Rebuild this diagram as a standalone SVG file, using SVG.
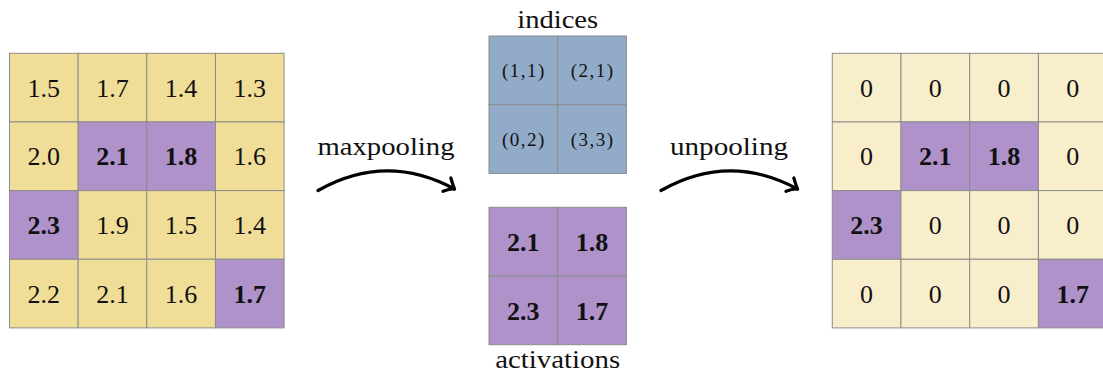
<svg xmlns="http://www.w3.org/2000/svg" width="1103" height="376" viewBox="0 0 1103 376">
<style>
.y{fill:#f0dd97;stroke:#8c8c8c;stroke-width:1}
.ly{fill:#f9eecc;stroke:#8c8c8c;stroke-width:1}
.p{fill:#b092cb;stroke:#8c8c8c;stroke-width:1}
.b{fill:#91abc9;stroke:#8c8c8c;stroke-width:1}
text{font-family:"Liberation Serif","DejaVu Serif",serif;fill:#111;text-anchor:middle}
.n{font-size:26px}
.bd{font-size:26px;font-weight:bold}
.ix{font-size:19px;letter-spacing:1.5px}
.lb{font-size:26px}
.arr{fill:none;stroke:#000;stroke-width:3.2;stroke-linecap:round}
</style>
<defs>
<marker id="ah" markerUnits="userSpaceOnUse" markerWidth="30" markerHeight="30" refX="0" refY="0" viewBox="-15 -15 30 30" orient="auto" overflow="visible">
<path d="M-8.5,-8 Q-3,-2.5 0,0 Q-4,1.5 -9,7.5" fill="none" stroke="#000" stroke-width="3.2" stroke-linecap="round" stroke-linejoin="round"/>
</marker>
</defs>

<g id="input">
<rect class="y" x="9.5" y="53.3" width="68.65" height="68.65"/>
<rect class="y" x="78.15" y="53.3" width="68.65" height="68.65"/>
<rect class="y" x="146.8" y="53.3" width="68.65" height="68.65"/>
<rect class="y" x="215.45" y="53.3" width="68.65" height="68.65"/>
<rect class="y" x="9.5" y="121.95" width="68.65" height="68.65"/>
<rect class="p" x="78.15" y="121.95" width="68.65" height="68.65"/>
<rect class="p" x="146.8" y="121.95" width="68.65" height="68.65"/>
<rect class="y" x="215.45" y="121.95" width="68.65" height="68.65"/>
<rect class="p" x="9.5" y="190.6" width="68.65" height="68.65"/>
<rect class="y" x="78.15" y="190.6" width="68.65" height="68.65"/>
<rect class="y" x="146.8" y="190.6" width="68.65" height="68.65"/>
<rect class="y" x="215.45" y="190.6" width="68.65" height="68.65"/>
<rect class="y" x="9.5" y="259.25" width="68.65" height="68.65"/>
<rect class="y" x="78.15" y="259.25" width="68.65" height="68.65"/>
<rect class="y" x="146.8" y="259.25" width="68.65" height="68.65"/>
<rect class="p" x="215.45" y="259.25" width="68.65" height="68.65"/>
<text class="n" x="43.8" y="96.5">1.5</text>
<text class="n" x="112.5" y="96.5">1.7</text>
<text class="n" x="181.1" y="96.5">1.4</text>
<text class="n" x="249.8" y="96.5">1.3</text>
<text class="n" x="43.8" y="165.2">2.0</text>
<text class="bd" x="112.5" y="165.2">2.1</text>
<text class="bd" x="181.1" y="165.2">1.8</text>
<text class="n" x="249.8" y="165.2">1.6</text>
<text class="bd" x="43.8" y="233.8">2.3</text>
<text class="n" x="112.5" y="233.8">1.9</text>
<text class="n" x="181.1" y="233.8">1.5</text>
<text class="n" x="249.8" y="233.8">1.4</text>
<text class="n" x="43.8" y="302.5">2.2</text>
<text class="n" x="112.5" y="302.5">2.1</text>
<text class="n" x="181.1" y="302.5">1.6</text>
<text class="bd" x="249.8" y="302.5">1.7</text>
</g>

<g id="indices">
<rect class="b" x="489" y="36" width="68.7" height="68.7"/>
<rect class="b" x="557.7" y="36" width="68.7" height="68.7"/>
<rect class="b" x="489" y="104.7" width="68.7" height="68.7"/>
<rect class="b" x="557.7" y="104.7" width="68.7" height="68.7"/>
<text class="ix" x="524" y="77.3">(1,1)</text>
<text class="ix" x="592.7" y="77.3">(2,1)</text>
<text class="ix" x="524" y="146">(0,2)</text>
<text class="ix" x="592.7" y="146">(3,3)</text>
<text class="lb" x="557.7" y="28" textLength="81" lengthAdjust="spacingAndGlyphs">indices</text>
</g>

<g id="activations">
<rect class="p" x="489" y="207.3" width="68.7" height="68.7"/>
<rect class="p" x="557.7" y="207.3" width="68.7" height="68.7"/>
<rect class="p" x="489" y="276" width="68.7" height="68.7"/>
<rect class="p" x="557.7" y="276" width="68.7" height="68.7"/>
<text class="bd" x="523.3" y="251">2.1</text>
<text class="bd" x="592" y="251">1.8</text>
<text class="bd" x="523.3" y="319.7">2.3</text>
<text class="bd" x="592" y="319.7">1.7</text>
<text class="lb" x="557.7" y="368" textLength="125" lengthAdjust="spacingAndGlyphs">activations</text>
</g>

<g id="output">
<rect class="ly" x="832.3" y="53.3" width="68.7" height="68.65"/>
<rect class="ly" x="901" y="53.3" width="68.7" height="68.65"/>
<rect class="ly" x="969.7" y="53.3" width="68.7" height="68.65"/>
<rect class="ly" x="1038.4" y="53.3" width="68.7" height="68.65"/>
<rect class="ly" x="832.3" y="121.95" width="68.7" height="68.65"/>
<rect class="p" x="901" y="121.95" width="68.7" height="68.65"/>
<rect class="p" x="969.7" y="121.95" width="68.7" height="68.65"/>
<rect class="ly" x="1038.4" y="121.95" width="68.7" height="68.65"/>
<rect class="p" x="832.3" y="190.6" width="68.7" height="68.65"/>
<rect class="ly" x="901" y="190.6" width="68.7" height="68.65"/>
<rect class="ly" x="969.7" y="190.6" width="68.7" height="68.65"/>
<rect class="ly" x="1038.4" y="190.6" width="68.7" height="68.65"/>
<rect class="ly" x="832.3" y="259.25" width="68.7" height="68.65"/>
<rect class="ly" x="901" y="259.25" width="68.7" height="68.65"/>
<rect class="ly" x="969.7" y="259.25" width="68.7" height="68.65"/>
<rect class="p" x="1038.4" y="259.25" width="68.7" height="68.65"/>
<text class="n" x="866.6" y="96.5">0</text>
<text class="n" x="935.3" y="96.5">0</text>
<text class="n" x="1004" y="96.5">0</text>
<text class="n" x="1072.7" y="96.5">0</text>
<text class="n" x="866.6" y="165.2">0</text>
<text class="bd" x="935.3" y="165.2">2.1</text>
<text class="bd" x="1004" y="165.2">1.8</text>
<text class="n" x="1072.7" y="165.2">0</text>
<text class="bd" x="866.6" y="233.8">2.3</text>
<text class="n" x="935.3" y="233.8">0</text>
<text class="n" x="1004" y="233.8">0</text>
<text class="n" x="1072.7" y="233.8">0</text>
<text class="n" x="866.6" y="302.5">0</text>
<text class="n" x="935.3" y="302.5">0</text>
<text class="n" x="1004" y="302.5">0</text>
<text class="bd" x="1072.7" y="302.5">1.7</text>
</g>

<g id="connectors">
<path class="arr" d="M318,190.5 Q386,152 454.5,189" marker-end="url(#ah)"/>
<path class="arr" d="M661,190.5 Q729,152 797.5,189" marker-end="url(#ah)"/>
<text class="lb" x="386" y="155" textLength="137" lengthAdjust="spacingAndGlyphs">maxpooling</text>
<text class="lb" x="729" y="155" textLength="118" lengthAdjust="spacingAndGlyphs">unpooling</text>
</g>
</svg>
